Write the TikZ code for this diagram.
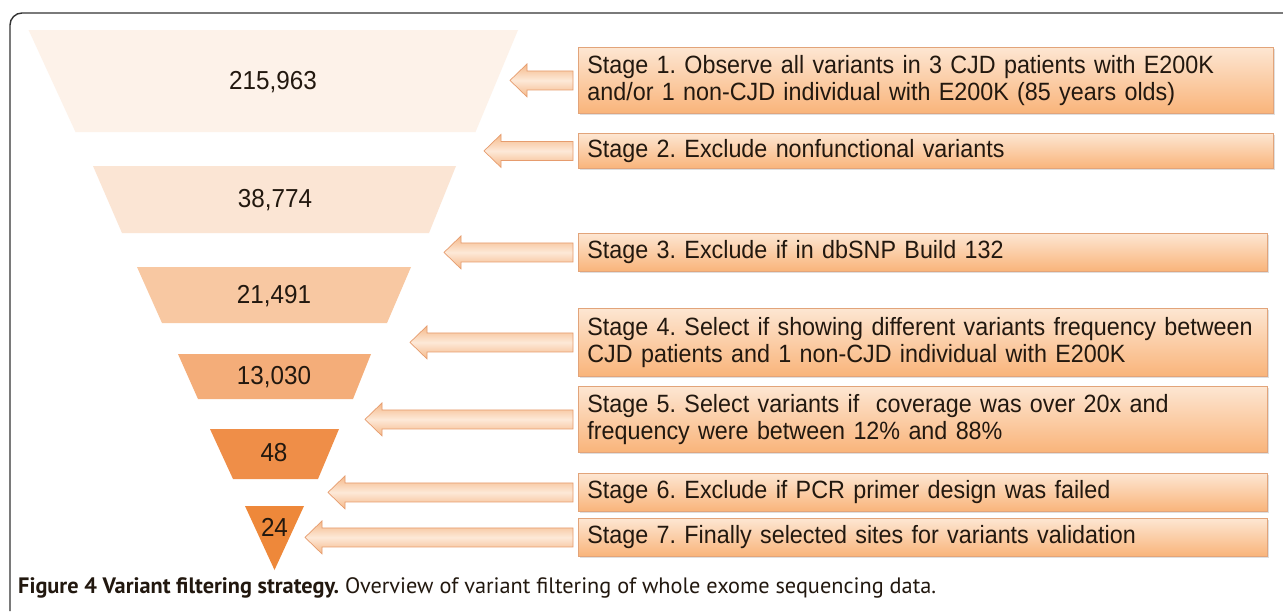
\documentclass[tikz,border=0pt]{standalone}
\usepackage{fontspec}
\setmainfont{Liberation Sans}
\newfontfamily\condfont[FakeStretch=0.933]{Liberation Sans}
\newfontfamily\capfont{PT Sans}
\usetikzlibrary{calc,shadows}
\definecolor{fa}{HTML}{FDF2E9}
\definecolor{fb}{HTML}{FBE5D4}
\definecolor{fc}{HTML}{F8C8A2}
\definecolor{fd}{HTML}{F4AD79}
\definecolor{fe}{HTML}{EF8E48}
\definecolor{ff}{HTML}{EE883A}
\definecolor{boxtop}{HTML}{FDE6D2}
\definecolor{boxbot}{HTML}{F9B47A}
\definecolor{boxedge}{HTML}{E2A47A}
\definecolor{arrdark}{HTML}{F5B888}
\definecolor{arrlight}{HTML}{FDE9D8}
\definecolor{arredge}{HTML}{E69C6E}
\definecolor{framec}{HTML}{333333}
\definecolor{txt}{HTML}{22180F}
\begin{document}
\frenchspacing
\begin{tikzpicture}[x=1pt,y=-1pt,
  num/.style={font=\condfont\fontsize{26}{30}\selectfont, text=txt, inner sep=0pt},
  stagebox/.style={draw=boxedge, line width=0.8pt, top color=boxtop, bottom color=boxbot,
     anchor=north west, inner xsep=9pt, inner ysep=0pt, align=left,
     font=\condfont\fontsize{25}{27}\selectfont, text=txt,
     drop shadow={shadow xshift=1.2pt, shadow yshift=-1.5pt, opacity=0.25}},
  blockarrow/.style={draw=arredge, line width=0.7pt, top color=arrdark, bottom color=arrdark, middle color=arrlight}
]
\useasboundingbox (0,0) rectangle (1283,611);
\fill[white] (0,0) rectangle (1283,611);
% frame
\draw[framec, line width=1.4pt, rounded corners=12pt] (10,611) -- (10,13) -- (1283,13);

% funnel
\fill[fa] (28.6,30) -- (518,30) -- (475.5,132) -- (75.5,132) -- cycle;
\fill[fb] (93,166) -- (456,166) -- (429,233) -- (122,233) -- cycle;
\fill[fc] (137,267) -- (411,267) -- (387,323) -- (162,323) -- cycle;
\fill[fd] (178,354) -- (371,354) -- (353,399) -- (198,399) -- cycle;
\fill[fe] (210,429) -- (339,429) -- (318,479) -- (233,479) -- cycle;
\fill[ff] (245,506) -- (304,506) -- (274.5,570) -- cycle;
\node[num] (n1) at (273,82) {215,963};
\node[num] (n2) at (275,200) {38,774};
\node[num] (n3) at (274,296) {21,491};
\node[num] (n4) at (274,377) {13,030};
\node[num] (n5) at (274,453) {48};
\node[num] (n6) at (274.5,527) {24};

% stage boxes
\node[stagebox, text width=677pt, minimum height=66pt] (b1) at (578,47)
  {\mbox{Stage 1. Observe all variants in 3 CJD patients with E200K}\\\mbox{and/or 1 non-CJD individual with E200K (85 years olds)}};
\node[stagebox, text width=677pt, minimum height=35pt] (b2) at (578,133)
  {\mbox{Stage 2. Exclude nonfunctional variants}};
\node[stagebox, text width=671pt, minimum height=38pt] (b3) at (578,233)
  {\mbox{Stage 3. Exclude if in dbSNP Build 132}};
\node[stagebox, text width=671pt, minimum height=68pt] (b4) at (578,308)
  {\mbox{Stage 4. Select if showing different variants frequency between}\\\mbox{CJD patients and 1 non-CJD individual with E200K}};
\node[stagebox, text width=671pt, minimum height=66pt] (b5) at (578,386)
  {\mbox{Stage 5. Select variants if\ \ coverage was over 20x and}\\\mbox{frequency were between 12\% and 88\%}};
\node[stagebox, text width=671pt, minimum height=38pt] (b6) at (578,473)
  {\mbox{Stage 6. Exclude if PCR primer design was failed}};
\node[stagebox, text width=671pt, minimum height=38pt] (b7) at (578,518)
  {\mbox{Stage 7. Finally selected sites for variants validation}};

% block arrows
\foreach \i/\L in {1/63,2/89,3/129,4/163,5/208,6/245,7/268}{
  \draw[blockarrow] ($(b\i.west)+(-5,-9.5)$) -- ++({-(\L-17)},0) -- ++(0,-7) -- ++(-17,16.5)
     -- ++(17,16.5) -- ++(0,-7) -- ++({\L-17},0) -- cycle;
}

% caption
\node[anchor=west, inner sep=0pt, font=\capfont\fontsize{22.3}{25}\selectfont, text=txt] (cap) at (18,588)
  {\textbf{Figure 4 Variant filtering strategy.} Overview of variant filtering of whole exome sequencing data.};
\end{tikzpicture}
\end{document}
